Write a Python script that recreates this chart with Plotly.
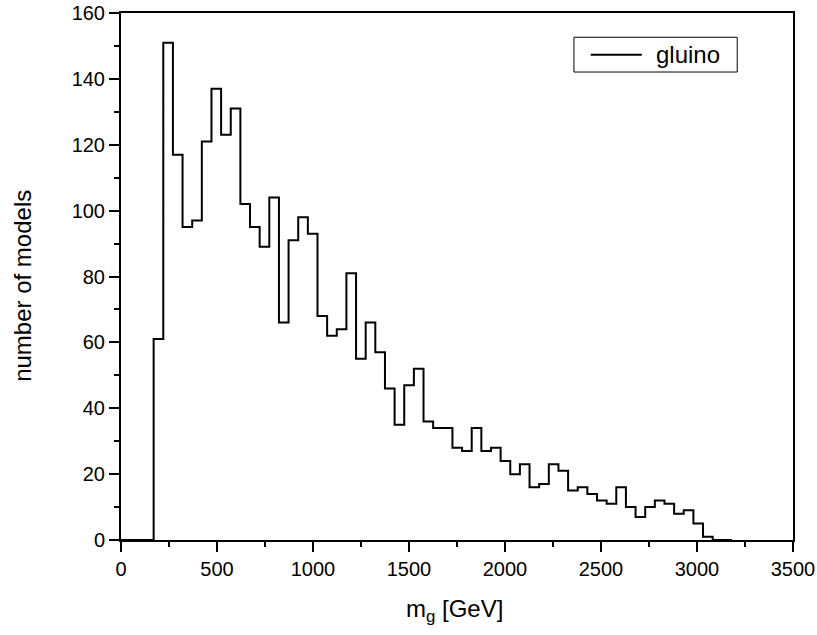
import numpy as np
import plotly.graph_objects as go

# ---- data ----
bin_start = 170.0
bin_width = 50.2
counts = [61, 151, 117, 95, 97, 121, 137, 123, 131, 102,
          95, 89, 104, 66, 91, 98, 93, 68, 62, 64,
          81, 55, 66, 57, 46, 35, 47, 52, 36, 34,
          34, 28, 27, 34, 27, 28, 24, 20, 23, 16,
          17, 23, 21, 15, 16, 14, 12, 11, 16, 10,
          7, 10, 12, 11, 8, 9, 5, 1, 0, 0]
series_name = "gluino"
x_ticks = [0, 500, 1000, 1500, 2000, 2500, 3000, 3500]
y_ticks = [0, 20, 40, 60, 80, 100, 120, 140, 160]

edges = bin_start + bin_width * np.arange(len(counts) + 1)
xs = [0.0] + list(edges)
ys = [0] + list(counts) + [counts[-1]]

FONT = "Liberation Sans, Arial, sans-serif"

fig = go.Figure()
fig.add_trace(go.Scatter(
    x=xs, y=ys, mode="lines", line=dict(shape="hv", color="black", width=2),
    showlegend=False, hoverinfo="skip"))

axis_common = dict(
    showgrid=False, zeroline=False, showline=True, linecolor="black", linewidth=2,
    mirror=True, ticks="outside", ticklen=10, tickwidth=1.5, tickcolor="black",
    tickfont=dict(family=FONT, size=20, color="black"), automargin=False,
)
fig.update_xaxes(range=[0, 3500], tickvals=x_ticks,
                 minor=dict(ticks="outside", ticklen=5, tickwidth=1.5, tickcolor="black", dtick=250),
                 **axis_common)
fig.update_yaxes(range=[0, 160], tickvals=y_ticks,
                 minor=dict(ticks="outside", ticklen=5, tickwidth=1.5, tickcolor="black", dtick=10),
                 **axis_common)

# legend drawn manually
fig.add_shape(type="rect", xref="paper", yref="paper", x0=0.674, x1=0.917, y0=0.888, y1=0.954,
              line=dict(color="black", width=1), fillcolor="white", layer="above")
fig.add_shape(type="line", xref="paper", yref="paper", x0=0.699, x1=0.775, y0=0.921, y1=0.921,
              line=dict(color="black", width=2))
fig.add_annotation(xref="paper", yref="paper", x=0.793, y=0.921, text=series_name,
                   showarrow=False, xanchor="left", yanchor="middle",
                   font=dict(family=FONT, size=24, color="black"))

# axis titles
fig.add_annotation(xref="paper", yref="paper", x=-0.146, y=0.482, text="number of models",
                   textangle=-90, showarrow=False, xanchor="center", yanchor="middle",
                   font=dict(family=FONT, size=24, color="black"))
fig.add_annotation(xref="paper", yref="paper", x=0.497, y=-0.133, text="m<sub>g</sub> [GeV]",
                   showarrow=False, xanchor="center", yanchor="middle",
                   font=dict(family=FONT, size=24, color="black"))

fig.update_layout(
    width=817, height=635, margin=dict(l=121, r=24, t=13, b=95, autoexpand=False),
    paper_bgcolor="white", plot_bgcolor="white", showlegend=False,
)
fig.write_html("out.html")
